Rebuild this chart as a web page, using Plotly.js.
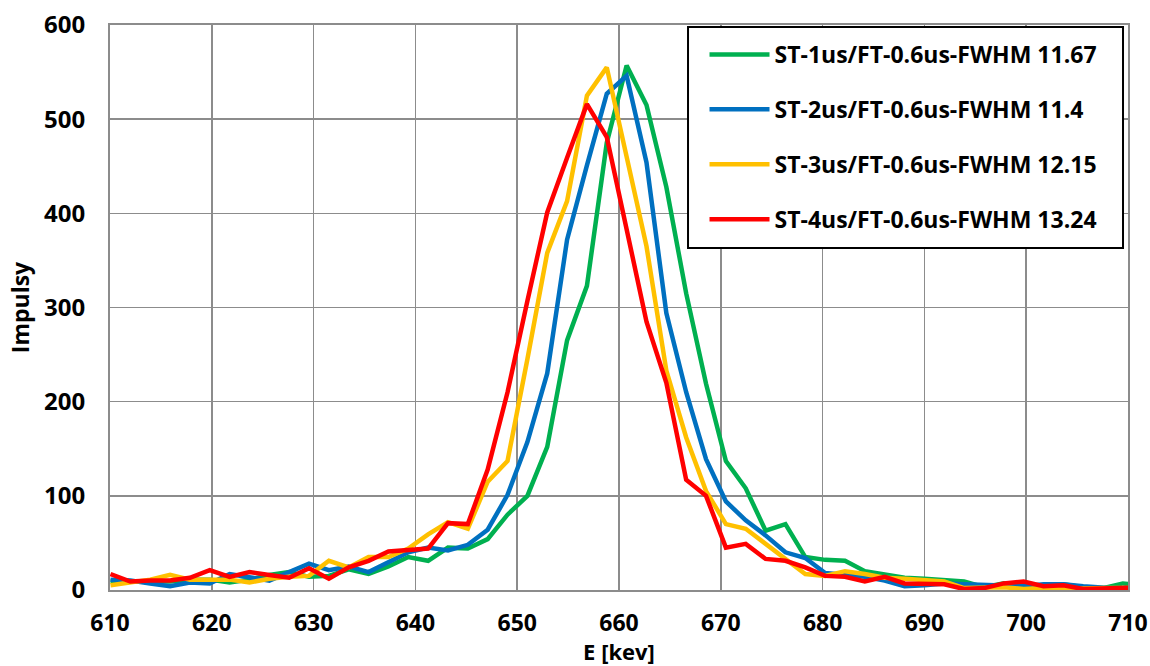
<!DOCTYPE html>
<html>
<head>
<meta charset="utf-8">
<script src="https://cdn.plot.ly/plotly-3.0.1.min.js"></script>
<style>html,body{margin:0;padding:0;background:#fff;}#chart{width:1150px;height:666px;}</style>
</head>
<body>
<div id="chart"></div>
<script>
const energy = [610.05, 612.0, 613.95, 615.9, 617.85, 619.8, 621.75, 623.7, 625.65, 627.6,
  629.55, 631.5, 633.45, 635.4, 637.35, 639.3, 641.25, 643.2, 645.15, 647.1,
  649.05, 651.0, 652.95, 654.9, 656.85, 658.8, 660.75, 662.7, 664.65, 666.6,
  668.55, 670.5, 672.45, 674.4, 676.35, 678.3, 680.25, 682.2, 684.15, 686.1,
  688.05, 690.0, 691.95, 693.9, 695.85, 697.8, 699.75, 701.7, 703.65, 705.6,
  707.55, 709.5, 711.45];

const st1 = [9, 9, 9, 9, 11, 11, 8, 11, 16, 19,
  14, 15, 22, 17, 25, 35, 31, 45, 44, 54,
  80, 100, 152, 265, 323, 475, 557, 515, 428, 315,
  219, 137, 108, 63, 70, 35, 32, 31, 20, 17,
  13, 12, 11, 9, 3, 7, 1, 5, 6, 3,
  2, 7, 5];
const st2 = [11, 10, 7, 4, 8, 7, 17, 14, 10, 19,
  28, 21, 25, 19, 30, 40, 45, 42, 48, 64,
  101, 157, 230, 372, 451, 527, 546, 454, 294, 210,
  139, 94, 74, 58, 40, 34, 18, 16, 14, 10,
  4, 5, 7, 6, 5, 5, 4, 6, 6, 4,
  3, 1, 2];
const st3 = [5, 8, 11, 16, 11, 11, 11, 8, 12, 14,
  15, 31, 24, 35, 35, 44, 59, 72, 65, 115,
  137, 245, 358, 413, 525, 555, 462, 365, 233, 162,
  105, 70, 65, 49, 33, 17, 15, 20, 17, 13,
  12, 10, 9, 2, 2, 3, 1, 2, 1, 2,
  2, 2, 2];
const st4 = [17, 9, 10, 10, 13, 21, 14, 19, 16, 13,
  23, 12, 24, 31, 41, 43, 44, 71, 70, 128,
  210, 307, 401, 459, 516, 481, 385, 285, 220, 117,
  100, 45, 49, 33, 31, 24, 15, 14, 9, 14,
  7, 6, 6, 1, 2, 7, 9, 4, 5, 1,
  2, 3, 3];

const seriesNames = ['ST-1us/FT-0.6us-FWHM 11.67', 'ST-2us/FT-0.6us-FWHM 11.4',
  'ST-3us/FT-0.6us-FWHM 12.15', 'ST-4us/FT-0.6us-FWHM 13.24'];
const seriesColors = ['#00B050', '#0070C0', '#FFC000', '#FF0000'];
const seriesValues = [st1, st2, st3, st4];

const traces = seriesValues.map((v, i) => ({
  type: 'scatter', mode: 'lines', x: energy, y: v, name: seriesNames[i],
  legendgroup: 'g' + i,
  line: {color: seriesColors[i], width: 4.5}
}));

const FONT = 'Open Sans, Liberation Sans, Arial, sans-serif';
const layout = {
  width: 1150, height: 666,
  margin: {l: 110, r: 22, t: 25, b: 76},
  paper_bgcolor: '#fff', plot_bgcolor: '#fff',
  font: {family: FONT, size: 22, color: '#000', weight: 'bold'},
  showlegend: true,
  legend: {
    x: 0.584, y: 0.9858, xanchor: 'left', yanchor: 'top',
    bgcolor: 'rgba(0,0,0,0)', borderwidth: 0,
    font: {family: FONT, size: 23, color: '#000', weight: 'bold'},
    traceorder: 'grouped', tracegroupgap: 22, itemwidth: 60
  },
  shapes: [{
    type: 'rect', xref: 'paper', yref: 'paper',
    x0: 0.5678, x1: 0.9951, y0: 0.6053, y1: 0.9965,
    fillcolor: '#fff', line: {color: '#000', width: 2}, layer: 'above'
  }],
  xaxis: {
    range: [610, 710], dtick: 10, tick0: 610,
    showgrid: true, gridcolor: '#8c8c8c', gridwidth: 1.5,
    showline: true, linecolor: '#8c8c8c', linewidth: 2, mirror: true,
    zeroline: false, ticks: '', ticklabelstandoff: 11,
    tickfont: {family: FONT, size: 23, color: '#000', weight: 'bold'},
    title: {text: 'E [kev]', font: {family: FONT, size: 22, color: '#000', weight: 'bold'}, standoff: 2},
    automargin: 'height'
  },
  yaxis: {
    range: [0, 600], dtick: 100, tick0: 0,
    showgrid: true, gridcolor: '#8c8c8c', gridwidth: 1.5,
    showline: true, linecolor: '#8c8c8c', linewidth: 2, mirror: true,
    zeroline: false, ticks: '', ticklabelstandoff: 18,
    tickfont: {family: FONT, size: 24, color: '#000', weight: 'bold'},
    title: {text: 'Impulsy', font: {family: FONT, size: 23, color: '#000', weight: 'bold'}, standoff: 8},
    automargin: false
  }
};

Plotly.newPlot('chart', traces, layout, {displayModeBar: false, staticPlot: true});
</script>
</body>
</html>
